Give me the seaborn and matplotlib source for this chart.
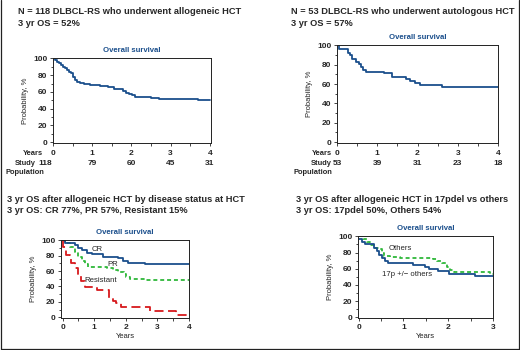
import matplotlib
matplotlib.use("Agg")
import matplotlib.pyplot as plt
import matplotlib.transforms as mtransforms
from matplotlib.lines import Line2D
import pandas as pd
import seaborn as sns

# ---- data (years, survival %) ----
allo_t = [0, 0.05, 0.1, 0.15, 0.2, 0.25, 0.3, 0.35, 0.4, 0.45, 0.5, 0.55, 0.6, 0.7, 0.8, 0.95,
          1.2, 1.4, 1.55, 1.7, 1.78, 1.85, 1.95, 2.02, 2.1, 2.5, 2.7, 3.7, 4.0]
allo_s = [100, 98, 96, 94, 92, 90, 88, 86, 84, 82, 78, 74, 72, 71, 70, 68,
          67, 66, 64, 63, 61, 59, 58, 56, 54, 53, 52, 50, 50]

auto_t = [0, 0.04, 0.28, 0.33, 0.38, 0.48, 0.55, 0.6, 0.65, 0.72, 1.17, 1.37, 1.72, 1.82,
          1.95, 2.05, 2.6, 4.0]
auto_s = [100, 96, 92, 90, 86, 83, 81, 78, 75, 73, 71, 67, 65, 63, 61, 59, 56.5, 56.5]

cr_t = [0, 0.07, 0.39, 0.5, 0.63, 0.78, 0.92, 1.28, 1.76, 1.92, 2.07, 2.6, 4.0]
cr_s = [100, 96, 94, 90.5, 87.5, 83, 82, 79, 77, 73, 71, 69, 69]

pr_t = [0, 0.07, 0.23, 0.39, 0.5, 0.6, 0.7, 0.81, 0.97, 1.39, 1.6, 1.76, 1.94, 2.0, 2.13, 2.6, 4.0]
pr_s = [100, 96, 92, 84.5, 79, 73, 69, 66, 65, 64, 61.5, 59.5, 56.5, 52, 50, 48.5, 48.5]

res_t = [0, 0.02, 0.1, 0.23, 0.26, 0.39, 0.5, 0.58, 0.7, 1.1, 1.47, 1.58, 1.7, 1.86, 2.76, 3.6, 4.0]
res_s = [100, 92, 81, 80, 70, 64, 54, 46.5, 39, 35, 25, 21.5, 18.5, 13, 8.6, 3.4, 3.4]

del17_t = [0, 0.07, 0.14, 0.34, 0.4, 0.46, 0.51, 0.59, 0.66, 1.21, 1.49, 1.56, 1.78, 2.02, 2.59, 3.0]
del17_s = [97, 93, 90, 86, 82, 77.5, 72.7, 69, 67.3, 65, 62.4, 59.6, 57, 54, 51, 51]

oth_t = [0, 0.1, 0.18, 0.25, 0.37, 0.48, 0.51, 0.57, 0.7, 0.93, 1.67, 1.75, 1.86, 1.97, 2.04,
         2.12, 2.94, 3.0]
oth_s = [100, 97, 93, 89, 86, 84, 79, 75.5, 74.7, 72.7, 72, 69.4, 66.5, 62, 58, 55.5, 53, 53]

years_4 = [0, 1, 2, 3, 4]
allo_at_risk = [118, 79, 60, 45, 31]
auto_at_risk = [53, 39, 31, 23, 18]

BLUE = "#1b4f8c"
GREEN = "#2fb83a"
RED = "#d7191c"
W, H = 520, 350
NUM_FS = 6.0
WORD_FS = 5.4

sns.set_style("ticks")
plt.rcParams['font.family'] = ['Liberation Sans', 'DejaVu Sans']
NARROW = ['Liberation Sans Narrow', 'Liberation Sans', 'DejaVu Sans']

fig = plt.figure(figsize=(W / 100, H / 100), dpi=100)


def px_axes(x0, y0, x1, y1):
    return fig.add_axes([x0 / W, 1 - y1 / H, (x1 - x0) / W, (y1 - y0) / H])


def ftext(x, y, s, **kw):
    fig.text(x / W, 1 - y / H, s, **kw)


def km(ax, t, s, color, dashes=None):
    d = pd.DataFrame({"t": t, "s": s})
    sns.lineplot(data=d, x="t", y="s", drawstyle="steps-post", color=color, lw=1.3,
                 estimator=None, sort=False, ax=ax)
    line = ax.get_lines()[-1]
    if dashes:
        line.set_dashes(dashes)


def style_ax(ax, xmin, xmax, title, xlabel=False):
    ax.set_xlim(xmin, xmax)
    ax.set_ylim(-1, 100.5)
    ax.set_yticks(range(0, 101, 20))
    ax.set_yticks(range(10, 100, 20), minor=True)
    top = int(round(xmax))
    ax.set_xticks(range(0, top + 1))
    ax.set_xticks([i + 0.5 for i in range(top)], minor=True)
    for sp in ax.spines.values():
        sp.set_visible(True)
        sp.set_linewidth(0.7)
        sp.set_color("#222222")
    ax.tick_params(which="major", length=2.5, width=0.6, labelsize=NUM_FS, pad=1.5)
    ax.tick_params(which="minor", length=1.8, width=0.6)
    for lab in ax.get_xticklabels() + ax.get_yticklabels():
        lab.set_fontweight("bold")
    ax.set_ylabel("Probability, %", family=NARROW, fontsize=5.5, labelpad=3)
    ax.set_xlabel("Years" if xlabel else "", family=NARROW, fontsize=5.5, labelpad=2)
    ax.set_title(title, color=BLUE, fontsize=5.6, fontweight="bold", pad=4)


# ---- panel 1: allogeneic ----
ax1 = px_axes(53, 58, 211, 143)
km(ax1, allo_t, allo_s, BLUE)
style_ax(ax1, 0, 4.03, "Overall survival")
ax1.tick_params(axis="x", pad=2.5)
ftext(18, 11, "N = 118 DLBCL-RS who underwent allogeneic HCT", fontsize=6.7,
      fontweight="bold", va="center")
ftext(18, 23, "3 yr OS = 52%", fontsize=6.7, fontweight="bold", va="center")
tr1 = mtransforms.blended_transform_factory(ax1.transData, fig.transFigure)
for x, n in zip(years_4, allo_at_risk):
    if x == 0:
        ftext(52, 163.5, str(n), ha="right", va="center", fontsize=NUM_FS, fontweight="bold")
    else:
        ax1.text(x, 1 - 163.5 / H, str(n), transform=tr1, ha="center", va="center",
                 fontsize=NUM_FS, fontweight="bold")
ftext(43, 154, "Years", fontsize=WORD_FS, fontweight="bold", ha="right", va="center")
ftext(36, 163.5, "Study", fontsize=WORD_FS, fontweight="bold", ha="right", va="center")
ftext(5, 172.5, "Population", fontsize=WORD_FS, fontweight="bold", ha="left", va="center")

# ---- panel 2: autologous ----
ax2 = px_axes(337, 45, 498, 143)
km(ax2, auto_t, auto_s, BLUE)
style_ax(ax2, 0, 4.0, "Overall survival")
ax2.tick_params(axis="x", pad=2.5)
ftext(291, 11, "N = 53 DLBCL-RS who underwent autologous HCT", fontsize=6.7,
      fontweight="bold", va="center")
ftext(291, 23, "3 yr OS = 57%", fontsize=6.7, fontweight="bold", va="center")
tr2 = mtransforms.blended_transform_factory(ax2.transData, fig.transFigure)
for x, n in zip(years_4, auto_at_risk):
    ax2.text(x, 1 - 163.5 / H, str(n), transform=tr2, ha="center", va="center",
             fontsize=NUM_FS, fontweight="bold")
ftext(332, 154, "Years", fontsize=WORD_FS, fontweight="bold", ha="right", va="center")
ftext(332, 163.5, "Study", fontsize=WORD_FS, fontweight="bold", ha="right", va="center")
ftext(293, 172.5, "Population", fontsize=WORD_FS, fontweight="bold", ha="left", va="center")

# ---- panel 3: by disease status ----
ax3 = px_axes(61, 240, 189, 318)
km(ax3, res_t, res_s, RED, dashes=(5, 2.5))
km(ax3, pr_t, pr_s, GREEN, dashes=(2.2, 1.6))
km(ax3, cr_t, cr_s, BLUE)
style_ax(ax3, -0.05, 4.0, "Overall survival", xlabel=True)
ax3.text(1.1, 88, "CR", fontsize=5.6, ha="center", va="center")
ax3.text(1.58, 68, "PR", fontsize=5.6, ha="center", va="center")
ax3.text(0.7, 47.5, "Resistant", fontsize=5.6, ha="left", va="center")
ftext(7, 199, "3 yr OS after allogeneic HCT by disease status at HCT", fontsize=6.7,
      fontweight="bold", va="center")
ftext(7, 210.5, "3 yr OS: CR 77%, PR 57%, Resistant 15%", fontsize=6.7,
      fontweight="bold", va="center")

# ---- panel 4: 17p deletion ----
ax4 = px_axes(358, 236, 493, 318)
km(ax4, oth_t, oth_s, GREEN, dashes=(2.2, 1.6))
km(ax4, del17_t, del17_s, BLUE)
style_ax(ax4, -0.015, 3.0, "Overall survival", xlabel=True)
ax4.text(0.66, 85, "Others", fontsize=5.6, ha="left", va="center")
ax4.text(1.07, 53, "17p +/\u2212 others", fontsize=5.6, ha="center", va="center")
ftext(296, 199, "3 yr OS after allogeneic HCT in 17pdel vs others", fontsize=6.7,
      fontweight="bold", va="center")
ftext(296, 210.5, "3 yr OS: 17pdel 50%, Others 54%", fontsize=6.7,
      fontweight="bold", va="center")

# outer frame
for xs, ys in [([1, 1], [0, 349]), ([518.5, 518.5], [0, 349]), ([1, 518.5], [348.5, 348.5])]:
    fig.add_artist(Line2D([x / W for x in xs], [1 - y / H for y in ys], color="#222222",
                          lw=0.9, transform=fig.transFigure))

fig.savefig("out.png", dpi=100, facecolor="white")
